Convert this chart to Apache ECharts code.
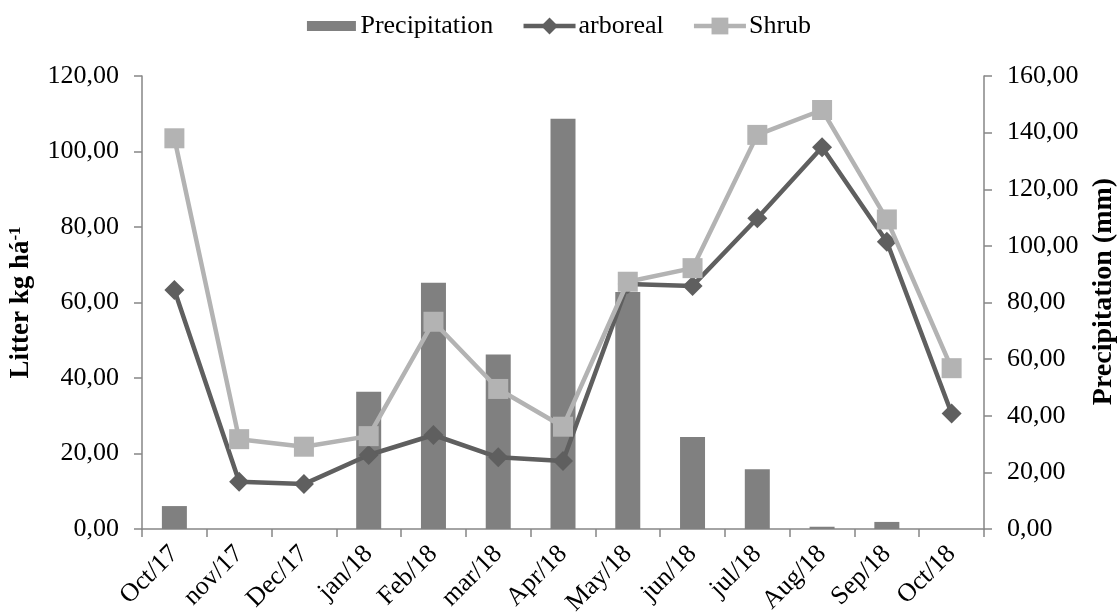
<!DOCTYPE html>
<html>
<head>
<meta charset="utf-8">
<script src="https://cdn.jsdelivr.net/npm/echarts@6/dist/echarts.min.js"></script>
<style>html,body{margin:0;padding:0;background:#fff}#c{width:1118px;height:615px}</style>
</head>
<body>
<div id="c"></div>
<script>
const categories = ['Oct/17','nov/17','Dec/17','jan/18','Feb/18','mar/18','Apr/18','May/18','jun/18','jul/18','Aug/18','Sep/18','Oct/18'];
const precipitation = [8.1, 0, 0, 48.5, 87.0, 61.6, 144.9, 83.7, 32.5, 21.1, 0.8, 2.5, 0];
const arboreal = [63.3, 12.5, 11.9, 19.6, 24.9, 19.0, 18.0, 64.9, 64.4, 82.3, 101.1, 76.1, 30.6];
const shrub = [103.5, 23.8, 21.8, 24.6, 54.9, 37.1, 27.1, 65.5, 69.1, 104.4, 111.0, 82.0, 42.6];
const leftTicks = {min: 0, max: 120, interval: 20};
const rightTicks = {min: 0, max: 160, interval: 20};

const FONT = '"Liberation Serif","Times New Roman",serif';
const fmt = v => v.toFixed(2).replace('.', ',');
const axisGray = '#868686';
const darkGray = '#5f5f5f';
const lightGray = '#b3b3b3';

const chart = echarts.init(document.getElementById('c'), null, {renderer: 'canvas'});
chart.setOption({
  animation: false,
  textStyle: {fontFamily: FONT},
  legend: {
    top: 8, left: 'center',
    itemWidth: 52, itemHeight: 21, itemGap: 28,
    textStyle: {fontFamily: FONT, fontSize: 26, color: '#000', padding: [0, 0, 0, -2]},
    data: [
      {name: 'Precipitation', icon: 'path://M0,5.5 L49,5.5 L49,15.5 L0,15.5 Z M0,0 L0,0.01 M0,21 L0,21.01'},
      {name: 'arboreal', lineStyle: {width: 4.5, color: darkGray}},
      {name: 'Shrub', lineStyle: {width: 4.5, color: lightGray}}
    ]
  },
  grid: {left: 142, right: 134, top: 76, bottom: 86, containLabel: false, outerBoundsMode: 'none'},
  xAxis: {
    type: 'category', data: categories, boundaryGap: true,
    axisLine: {lineStyle: {color: axisGray, width: 1.5}},
    axisTick: {show: true, length: 8, lineStyle: {color: axisGray, width: 1.5}},
    axisLabel: {rotate: 45, fontFamily: FONT, fontSize: 26, color: '#000', margin: 21, interval: 0}
  },
  yAxis: [{
    type: 'value', min: leftTicks.min, max: leftTicks.max, interval: leftTicks.interval,
    position: 'left',
    name: '{a|Litter kg há}{b|-1}', nameLocation: 'middle', nameGap: 106, nameRotate: 90,
    nameTextStyle: {rich: {
      a: {fontFamily: FONT, fontSize: 27, fontWeight: 'bold', color: '#000'},
      b: {fontFamily: FONT, fontSize: 17, fontWeight: 'bold', color: '#000', verticalAlign: 'top', padding: [0, 0, 12, 0]}
    }},
    axisLine: {show: true, lineStyle: {color: axisGray, width: 1.5}},
    axisTick: {show: true, length: 8, lineStyle: {color: axisGray, width: 1.5}},
    axisLabel: {formatter: fmt, fontFamily: FONT, fontSize: 26, color: '#000', margin: 23},
    splitLine: {show: false}
  }, {
    type: 'value', min: rightTicks.min, max: rightTicks.max, interval: rightTicks.interval,
    position: 'right',
    name: 'Precipitation (mm)', nameLocation: 'middle', nameGap: 104, nameRotate: 90,
    nameTextStyle: {fontFamily: FONT, fontSize: 28, fontWeight: 'bold', color: '#000', padding: [0, 0, 0, 22]},
    axisLine: {show: true, lineStyle: {color: axisGray, width: 1.5}},
    axisTick: {show: true, length: 8, lineStyle: {color: axisGray, width: 1.5}},
    axisLabel: {formatter: fmt, fontFamily: FONT, fontSize: 26, color: '#000', margin: 23},
    splitLine: {show: false}
  }],
  series: [{
    name: 'Precipitation', type: 'bar', yAxisIndex: 1, data: precipitation,
    barWidth: 25, itemStyle: {color: '#808080'}, z: 1
  }, {
    name: 'arboreal', type: 'line', yAxisIndex: 0, data: arboreal,
    symbol: 'diamond', symbolSize: 20, showAllSymbol: true,
    lineStyle: {color: darkGray, width: 4.5}, itemStyle: {color: darkGray}, z: 3
  }, {
    name: 'Shrub', type: 'line', yAxisIndex: 0, data: shrub,
    symbol: 'rect', symbolSize: 20, showAllSymbol: true,
    lineStyle: {color: lightGray, width: 4.5}, itemStyle: {color: lightGray}, z: 4
  }]
});
</script>
</body>
</html>
